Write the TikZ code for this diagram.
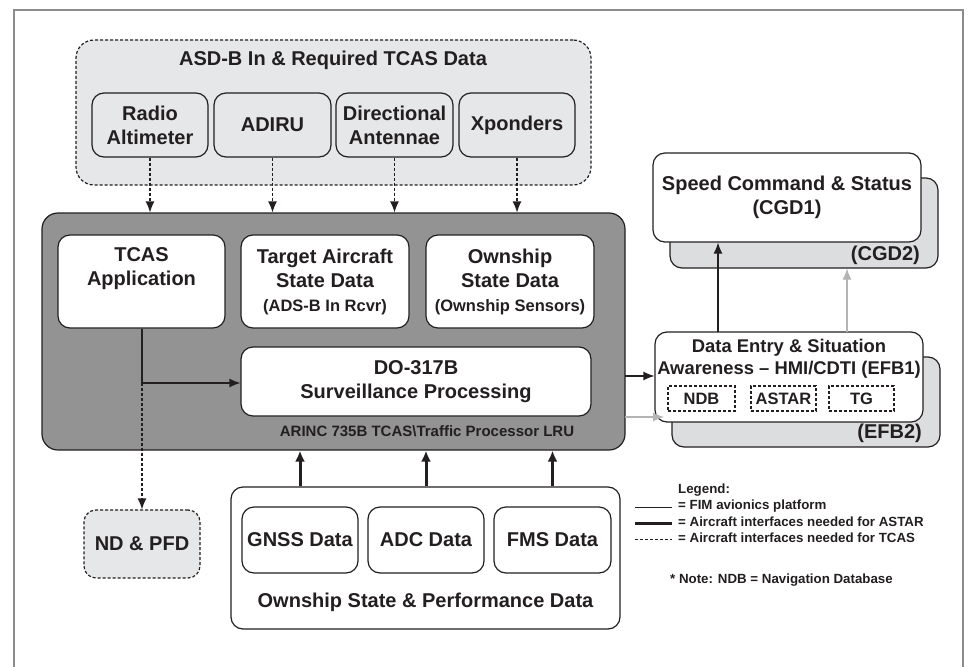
\documentclass[tikz,border=0pt]{standalone}
\usepackage{fontspec}
\setmainfont{Liberation Sans}
\usetikzlibrary{arrows.meta}
\definecolor{ink}{HTML}{231F20}
\definecolor{lightfill}{HTML}{E6E7E8}
\definecolor{lrufill}{HTML}{939393}
\definecolor{backfill}{HTML}{DCDDDE}
\definecolor{framegray}{HTML}{8C8C8C}
\definecolor{grayarrow}{HTML}{B4B4B4}
\newcommand\mainsz{\fontsize{20}{24}\selectfont}
\newcommand\efbsz{\fontsize{18.4}{22}\selectfont}
\newcommand\subsz{\fontsize{16.5}{22}\selectfont}
\newcommand\smallsz{\fontsize{15}{18}\selectfont}
\newcommand\legsz{\fontsize{13.3}{16}\selectfont}
\begin{document}
\begin{tikzpicture}[x=1pt,y=-1pt,
  font=\bfseries\mainsz,
  every node/.style={text=ink},
  box/.style={draw=ink, line width=1.2pt, rounded corners=12pt, inner sep=0pt, align=center},
  whitebox/.style={box, fill=white},
  greybox/.style={box, fill=lightfill},
  backbox/.style={box, fill=backfill},
  dashbox/.style={box, dash pattern=on 3pt off 2pt},
  txt/.style={align=center, inner sep=0pt},
  thinarrow/.style={draw=ink, line width=1.2pt, -{Latex[length=11pt,width=9pt]}},
  dasharrow/.style={draw=ink, line width=1.2pt, dash pattern=on 3pt off 2pt, -{Latex[length=11pt,width=9pt]}},
  thickarrow/.style={draw=ink, line width=3pt, -{Latex[length=11pt,width=10pt]}},
  grayarr/.style={draw=grayarrow, line width=1.2pt, -{Latex[length=11pt,width=9pt]}}
]
\useasboundingbox (0,0) rectangle (968,666);
\fill[white] (0,0) rectangle (968,666);
% outer frame
\draw[framegray, line width=1.5pt] (14,690) -- (14,10) -- (963,10) -- (963,690);

% ASD-B container
\node[greybox, dashbox, fill=lightfill, minimum width=515pt, minimum height=145pt, rounded corners=18pt] (asd) at (333.5,112.5) {};
\node[txt] (asdtitle) at (333,60) {ASD-B In \& Required TCAS Data};
\node[greybox, minimum width=116pt, minimum height=64pt] (radio) at (150,125) {Radio\\Altimeter};
\node[greybox, minimum width=117pt, minimum height=64pt] (adiru) at (272.5,125) {ADIRU};
\node[greybox, minimum width=117pt, minimum height=64pt] (dir) at (394.5,125) {Directional\\Antennae};
\node[greybox, minimum width=116pt, minimum height=64pt] (xp) at (517,125) {Xponders};

% LRU
\node[box, fill=lrufill, minimum width=583pt, minimum height=237pt, rounded corners=16pt] (lru) at (333.5,331.5) {};
\node[whitebox, minimum width=167pt, minimum height=93pt] (tcas) at (141.5,281.5) {};
\node[txt] (tcastxt) at (141.5,269) {TCAS\\Application};
\node[whitebox, minimum width=168pt, minimum height=93pt] (target) at (325,281.5) {Target Aircraft\\State Data\\\subsz (ADS-B In Rcvr)};
\node[whitebox, minimum width=168pt, minimum height=93pt] (own) at (510,281.5) {Ownship\\State Data\\\subsz (Ownship Sensors)};
\node[whitebox, minimum width=350pt, minimum height=69pt] (do) at (416,381.5) {DO-317B\\Surveillance Processing};
\node[txt, font=\bfseries\smallsz] (arinc) at (427,431) {ARINC 735B TCAS\textbackslash Traffic Processor LRU};

% dashed arrows from sensors
\foreach \n in {radio,adiru,dir,xp}{
  \draw[dasharrow] (\n.south) -- (\n.south |- lru.north);
}

% TCAS -> DO-317B and ND & PFD
\node[greybox, dashbox, fill=lightfill, minimum width=116pt, minimum height=68pt] (nd) at (142,544) {ND \& PFD};
\coordinate (tcasjoin) at (142,383);
\draw[ink, line width=1.2pt] (tcas.south -| tcasjoin) -- (tcasjoin);
\draw[thinarrow] (tcasjoin) -- (tcasjoin -| do.west);
\draw[dasharrow] (tcasjoin) -- (nd.north);

% Ownship state & performance data
\node[whitebox, minimum width=389pt, minimum height=142pt] (perf) at (425.5,558) {};
\node[txt] (perftitle) at (425.5,602) {Ownship State \& Performance Data};
\node[whitebox, minimum width=116pt, minimum height=66pt] (gnss) at (300,540) {GNSS Data};
\node[whitebox, minimum width=116pt, minimum height=66pt] (adc) at (426,540) {ADC Data};
\node[whitebox, minimum width=117pt, minimum height=66pt] (fms) at (552.5,540) {FMS Data};
\foreach \n in {gnss,adc,fms}{
  \draw[thickarrow] (\n |- perf.north) -- (\n |- lru.south);
}

% CGD boxes
\node[backbox, minimum width=268pt, minimum height=90pt] (cgd2) at (804,223) {};
\node[txt, anchor=east] (cgd2txt) at (920,255) {(CGD2)};
\node[whitebox, minimum width=268pt, minimum height=89pt] (cgd1) at (787,197.5) {Speed Command \& Status\\(CGD1)};

% EFB boxes
\node[backbox, minimum width=268pt, minimum height=90pt] (efb2) at (806,402) {};
\node[txt, anchor=east] (efb2txt) at (922,433) {(EFB2)};
\node[whitebox, minimum width=268pt, minimum height=90pt] (efb1) at (789,377) {};
\node[txt, font=\bfseries\efbsz] (efb1txt) at (789,359) {Data Entry \& Situation\\Awareness -- HMI/CDTI (EFB1)};
\node[box, font=\bfseries\subsz, dash pattern=on 3pt off 2pt, rounded corners=0pt, minimum width=67pt, minimum height=25pt] (ndb) at (701.5,398.5) {NDB};
\node[box, font=\bfseries\subsz, dash pattern=on 3pt off 2pt, rounded corners=0pt, minimum width=65pt, minimum height=25pt] (astar) at (783.5,398.5) {ASTAR};
\node[box, font=\bfseries\subsz, dash pattern=on 3pt off 2pt, rounded corners=0pt, minimum width=65pt, minimum height=25pt] (tg) at (861.5,398.5) {TG};

% connectors on the right
\coordinate (lruA) at (625,376);
\coordinate (lruB) at (625,417);
\coordinate (efbB) at (664,417);
\draw[thinarrow] (lruA) -- (lruA -| efb1.west);
\draw[grayarr] (lruB) -- (efbB);
\coordinate (upA) at (718,332);
\coordinate (upB) at (847,332);
\draw[thinarrow] (upA) -- (upA |- cgd1.south);
\draw[grayarr] (upB) -- (upB |- cgd2.south);

% legend
\begin{scope}[every node/.style={txt, anchor=west, text=ink, font=\bfseries\legsz}]
\node (leg0) at (678,490) {Legend:};
\node (leg1) at (678,506) {= FIM avionics platform};
\node (leg2) at (678,522) {= Aircraft interfaces needed for ASTAR};
\node (leg3) at (678,538) {= Aircraft interfaces needed for TCAS};
\node (note) at (670,580) {* Note: NDB = Navigation Database};
\end{scope}
\coordinate (l1a) at (635,507); \coordinate (l1b) at (672,507);
\coordinate (l2a) at (635,523); \coordinate (l2b) at (672,523);
\coordinate (l3a) at (635,539); \coordinate (l3b) at (672,539);
\draw[ink, line width=1pt] (l1a) -- (l1b);
\draw[ink, line width=3pt] (l2a) -- (l2b);
\draw[ink, line width=1pt, dash pattern=on 3pt off 2pt] (l3a) -- (l3b);
\end{tikzpicture}
\end{document}
